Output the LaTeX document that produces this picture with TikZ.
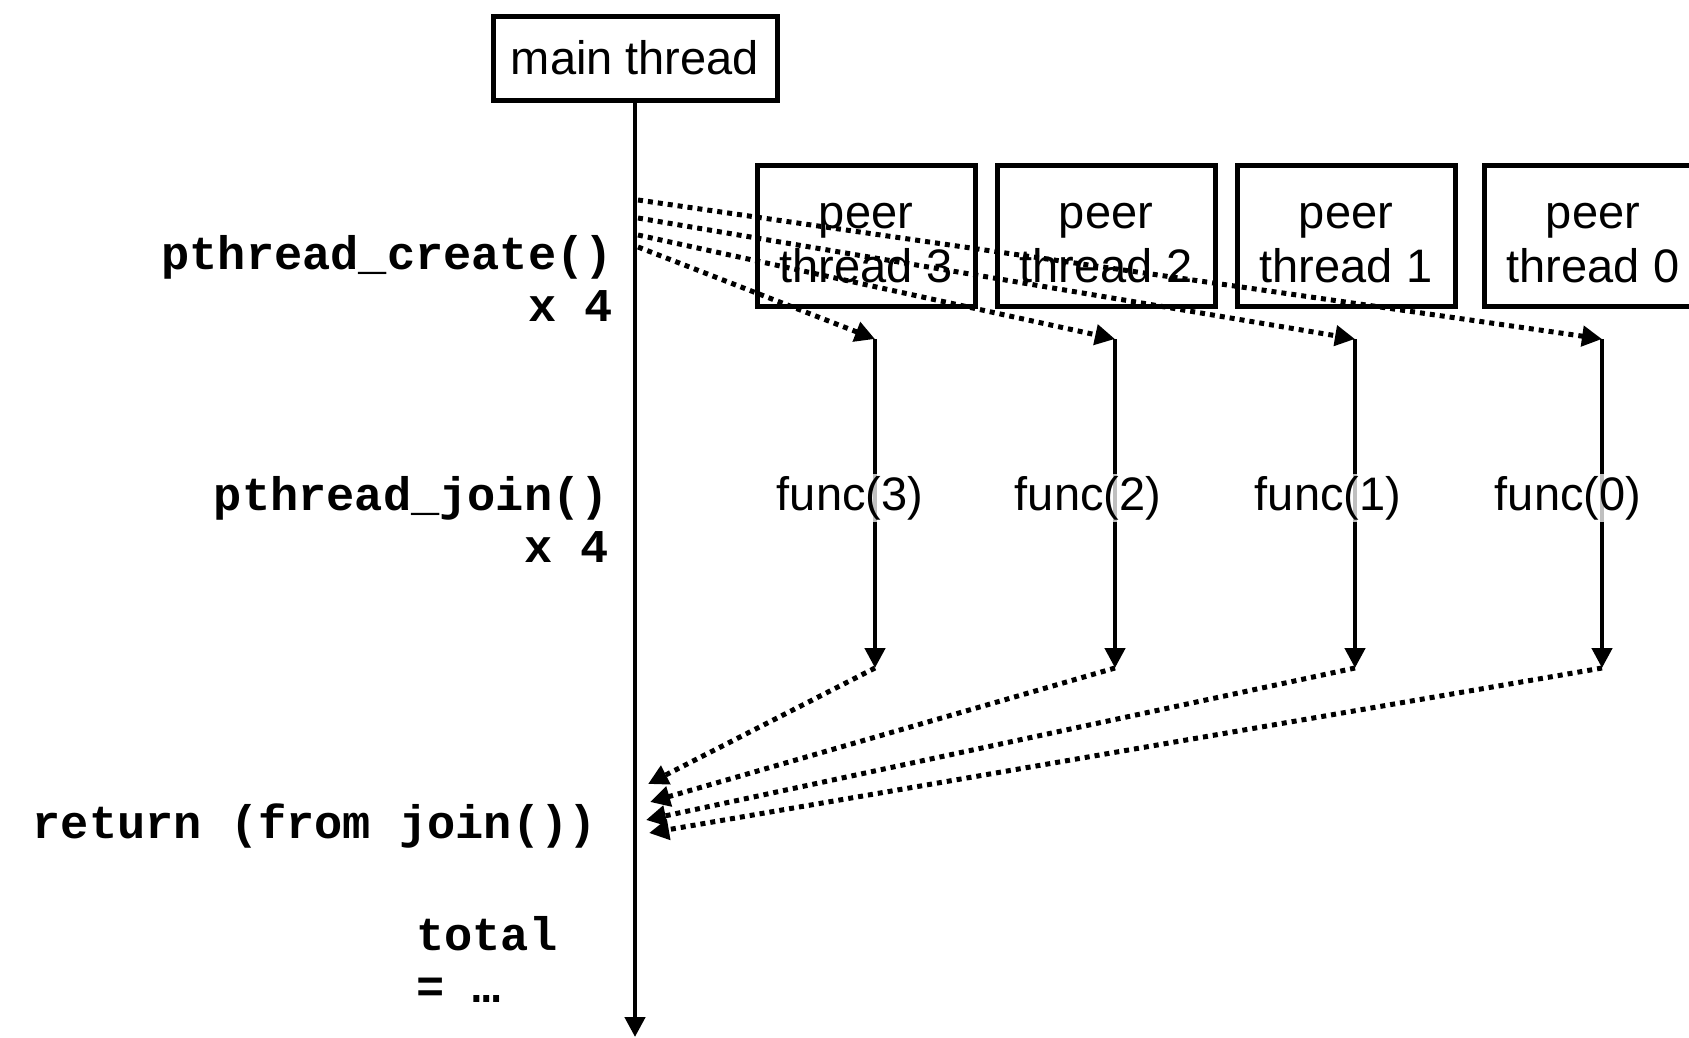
\documentclass[tikz,border=0pt]{standalone}
\usepackage{fontspec}
\setmainfont{Liberation Sans}
\setmonofont{Liberation Mono}
\usetikzlibrary{arrows.meta}

\tikzset{
  threadbox/.style={draw, line width=5pt, align=center, inner sep=0pt,
    font=\fontsize{47}{54}\selectfont},
  call/.style={font=\fontsize{47}{52}\selectfont\ttfamily\bfseries, inner sep=0pt},
  life/.style={line width=4.5pt, -{Triangle[length=20pt,width=20pt]}},
  spawn/.style={line width=5pt, dash pattern=on 5pt off 5pt,
    -{Triangle[length=20pt,width=20pt]}},
  funclabel/.style={fill=white, fill opacity=0.75, text opacity=1, inner sep=2pt,
    font=\fontsize{47}{54}\selectfont}
}
% first line of a peer box sits a little lower
\newcommand{\peerlift}{\rule{0pt}{40pt}}

\begin{document}
\begin{tikzpicture}[x=1pt,y=-1pt]
	\useasboundingbox (0,0) rectangle (1689,1037);
	% threads
	\node[threadbox, minimum width=284pt, minimum height=84pt] (main) at (635,58) {main thread};
	\node[threadbox, minimum width=218pt, minimum height=141pt] (peer3) at (866,236) {\peerlift peer\\thread 3};
	\node[threadbox, minimum width=218pt, minimum height=141pt] (peer2) at (1106,236) {\peerlift peer\\thread 2};
	\node[threadbox, minimum width=218pt, minimum height=141pt] (peer1) at (1346,236) {\peerlift peer\\thread 1};
	\node[threadbox, minimum width=218pt, minimum height=141pt] (peer0) at (1593,236) {\peerlift peer\\thread 0};
	% calls on the left
	\node[call, anchor=east, align=right] (create) at (613,278) {pthread\_create()\\x 4};
	\node[call, anchor=east, align=right] (join) at (609,519) {pthread\_join()\\x 4};
	\node[call, anchor=east] (ret) at (597,826) {return (from join())};
	\node[call, anchor=west, align=left] (total) at (416,959) {total\\= …};
	% main line
	\coordinate (mainend) at (635,1037);
	\draw[life] (main.south) -- (mainend);
	% start and end of each peer thread
	\coordinate (top3) at (875,339);
	\coordinate (top2) at (1115,339);
	\coordinate (top1) at (1355,339);
	\coordinate (top0) at (1602,339);
	\coordinate (bot3) at (875,668);
	\coordinate (bot2) at (1115,668);
	\coordinate (bot1) at (1355,668);
	\coordinate (bot0) at (1602,668);
	\draw[life] (top3) -- (bot3);
	\draw[life] (top2) -- (bot2);
	\draw[life] (top1) -- (bot1);
	\draw[life] (top0) -- (bot0);
	\node[funclabel] (func3) at (850,498) {func(3)};
	\node[funclabel] (func2) at (1088,498) {func(2)};
	\node[funclabel] (func1) at (1328,498) {func(1)};
	\node[funclabel] (func0) at (1568,498) {func(0)};
	% create
	\coordinate (cr0) at (638,200);
	\coordinate (cr1) at (638,218);
	\coordinate (cr2) at (638,235);
	\coordinate (cr3) at (638,247);
	\draw[spawn] (cr0) -- (top0);
	\draw[spawn] (cr1) -- (top1);
	\draw[spawn] (cr2) -- (top2);
	\draw[spawn] (cr3) -- (top3);
	% join
	\coordinate (jn3) at (648,784);
	\coordinate (jn2) at (650,802);
	\coordinate (jn1) at (646,820);
	\coordinate (jn0) at (649,833);
	\draw[spawn] (bot3) -- (jn3);
	\draw[spawn] (bot2) -- (jn2);
	\draw[spawn] (bot1) -- (jn1);
	\draw[spawn] (bot0) -- (jn0);
\end{tikzpicture}
\end{document}
